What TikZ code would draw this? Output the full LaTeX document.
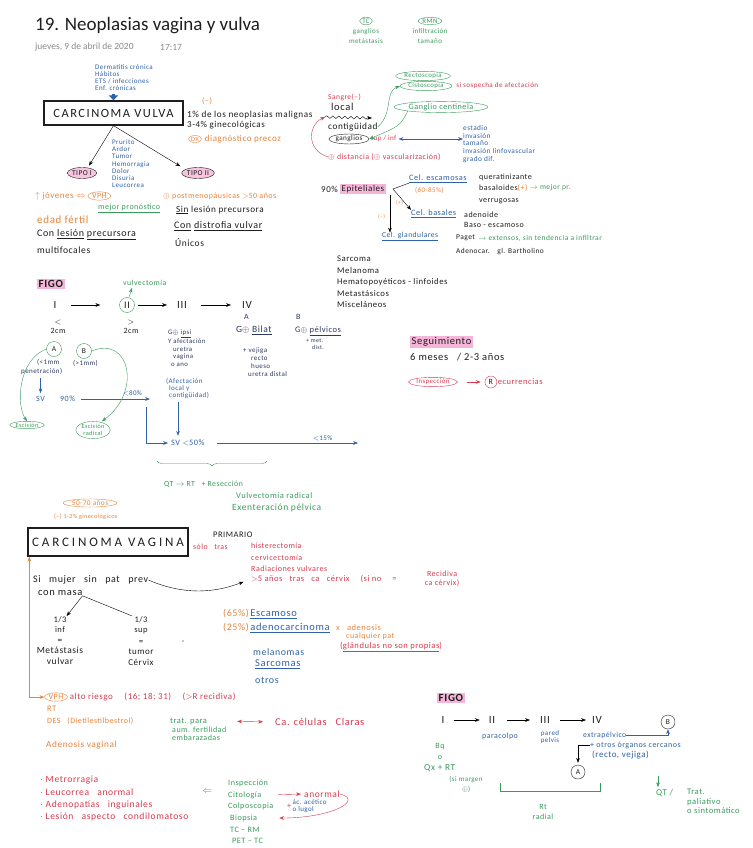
\documentclass[tikz,border=0pt]{standalone}
\usepackage{fontspec}
\setmainfont{Carlito}[LetterSpace=6]
\newfontfamily\plainfont{Carlito}
\usetikzlibrary{positioning,arrows.meta,shapes.geometric,decorations.pathmorphing,decorations.pathreplacing}
\definecolor{inkC}{HTML}{1E1E1E}
\definecolor{navyC}{HTML}{2E3A60}
\definecolor{blueC}{HTML}{2F62A6}
\definecolor{greenC}{HTML}{3A9A5E}
\definecolor{redC}{HTML}{D83A4F}
\definecolor{orangeC}{HTML}{E8843C}
\definecolor{pinkC}{HTML}{F5B5D8}
\definecolor{grayC}{HTML}{8A8A8A}
\newcommand{\fsz}[2]{\fontsize{#1}{#2}\selectfont}

\begin{document}
\begin{tikzpicture}[
  x=1pt, y=-1pt,
  >=Stealth,
  every node/.style={font=\fsz{7.5}{8.5}, text=inkC, inner sep=0pt},
  txt/.style={anchor=west, text=#1},
  txt/.default=inkC,
  lst/.style={anchor=north west, align=left, text=#1},
  lst/.default=inkC,
  oval/.style={ellipse, draw=#1, text=#1, inner xsep=0.8pt, inner ysep=0.4pt},
  circ/.style={circle, draw=#1, inner sep=1pt, minimum size=14pt},
  hl/.style={anchor=west, fill=pinkC, inner xsep=1.5pt, inner ysep=1.2pt},
  pill/.style={ellipse, draw=inkC, fill=pinkC!80, inner xsep=0.5pt, inner ysep=0pt,
               minimum height=11pt, font=\fsz{7.5}{8}},
  bigbox/.style={draw=inkC, line width=1.3pt, minimum width=#1, minimum height=24pt},
]
\fill[white] (0,0) rectangle (752,848);
\useasboundingbox (0,0) rectangle (752,848);

% ── Header ──
\node[txt, font=\plainfont\fsz{19}{19}] (title) at (35,26) {19. Neoplasias vagina y vulva};
\node[txt=grayC, font=\plainfont\fsz{9.5}{9.5}] (date) at (35,47) {jueves, 9 de abril de 2020};
\node[txt=grayC, font=\plainfont\fsz{9.5}{9.5}] (hour) at (160,47) {17:17};

% ── Carcinoma vulva ──
\node[lst=blueC, font=\fsz{7}{7}] (risk) at (95,64.5)
  {Dermatitis crónica\\Hábitos\\ETS / infecciones\\Enf. crónicas};
\node[bigbox=139pt, font=\fsz{12.5}{12.5}\addfontfeatures{LetterSpace=12}] (cvulva) at (113.5,113) {CARCINOMA VULVA};
\draw[blueC, line width=2.6pt, -{Triangle[length=5pt, width=9pt]}]
  ([yshift=-3pt]risk.south -| cvulva.north) -- (cvulva.north);

\node[txt=orangeC, font=\fsz{8}{8}] (vneg) at (202,101) {(--)};
\node[txt, font=\fsz{9.2}{9.2}] (vinc1) at (187,115) {1\% de los neoplasias malignas};
\node[txt, font=\fsz{9}{9}] (vinc2) at (187,125) {3-4\% ginecológicas};
\node[oval=orangeC, font=\fsz{6.5}{6.5}] (dxp) at (195,139) {DX};
\node[txt=orangeC, font=\fsz{9}{9}, right=3pt of dxp] (dxtxt) {diagnóstico precoz};

% ── Tipos ──
\node[pill] (tipo1) at (82,173) {TIPO I};
\node[pill] (tipo2) at (198,173) {TIPO II};
\draw[->, shorten >=2pt] (cvulva.south) -- ([xshift=6pt]tipo1.north);
\draw[->, shorten >=2pt] (cvulva.south) -- ([xshift=-16pt]tipo2.north);
\node[lst=blueC, font=\fsz{7}{7.2}] (sympt) at (112,139.5)
  {Prurito\\Ardor\\Tumor\\Hemorragia\\Dolor\\Disuria\\Leucorrea};

\node[txt=orangeC, font=\fsz{9}{9}] (joven) at (35,196) {$\uparrow$ jóvenes $\Leftrightarrow$};
\node[oval=orangeC, font=\fsz{8}{8}, right=2pt of joven] (vph1) {VPH};
\node[txt=greenC, font=\fsz{8}{8}] (mejorpr) at (98,208) {\underline{mejor pronóstico}};
\node[txt=orangeC, font=\fsz{11}{11}] (fertil) at (37,220) {edad fértil};
\node[txt, font=\fsz{10}{10}] (conles) at (37,235) {Con \underline{lesión} \underline{precursora}};
\node[txt, font=\fsz{9.6}{9.6}] (multif) at (37,250) {multifocales};

\node[txt=orangeC, font=\fsz{8}{8}] (postm) at (163,196) {$\oplus$ postmenopáusicas $>$50 años};
\node[txt, font=\fsz{9.2}{9.2}] (sinles) at (176,210) {\underline{Sin} lesión precursora};
\node[txt, font=\fsz{10}{10}] (condis) at (174,226) {\underline{Con} \underline{distrofia vulvar}};
\node[txt, font=\fsz{9.5}{9.5}] (unicos) at (175,243) {Únicos};

% ── Imagen ──
\node[oval=greenC, font=\fsz{7}{7}] (tc) at (366,21) {TC};
\node[below=3pt of tc, align=center, text=greenC, font=\fsz{7}{10}] (tcnote) {ganglios\\metástasis};
\node[oval=greenC, font=\fsz{7}{7}] (rmn) at (430,21) {RMN};
\node[below=3pt of rmn, align=center, text=greenC, font=\fsz{7}{10}] (rmnnote) {infiltración\\tamaño};

% ── Diseminación ──
\node[txt=redC] (sangre) at (328,97) {Sangre(--)};
\node[txt, font=\fsz{10.5}{10.5}] (local) at (331,107) {local};
\coordinate (wavS) at (325,117);
\coordinate (wavE) at (372,118);
\draw[->, decorate, decoration={snake, amplitude=1.3pt, segment length=6pt, post length=4pt}]
  (wavS) -- (wavE);
\node[txt, font=\fsz{9.3}{9.3}] (contig) at (328,127) {contigüidad};
\node[oval=inkC, font=\fsz{7.2}{7.2}] (gang) at (349,139) {ganglios};
\node[txt=redC, font=\fsz{7}{7}, right=1pt of gang] (supinf) {sup / inf};
\node[lst=blueC, font=\fsz{7.3}{7.6}] (factors) at (463,125.5)
  {estadio\\invasión\\tamaño\\invasión linfovascular\\grado dif.};
\draw[<->, blueC, shorten <=2pt] (supinf.east) -- (supinf.east -| factors.west);
\node[txt=redC, font=\fsz{7.9}{7.9}] (dist) at (328,157) {$\oplus$ distancia ($\oplus$ vascularización)};
\draw[->, redC] (dist.west) .. controls (306,150) and (308,125) .. (wavS);

\node[oval=greenC, font=\fsz{6.8}{6.8}] (recto) at (423,76) {Rectoscopia};
\node[oval=greenC, font=\fsz{6.8}{6.8}] (cisto) at (426,86) {Cistoscopia};
\node[txt=redC, font=\fsz{7.1}{7.1}, right=4pt of cisto] (sospecha) {si sospecha de afectación};
\node[oval=greenC, font=\fsz{8.2}{8.2}] (centinela) at (441,107) {Ganglio centinela};
\draw[->, greenC] (contig.east) .. controls (394,112) and (384,92) .. (cisto.west);
\draw[->, greenC] (centinela.south west) .. controls (400,126) .. (gang.east);

% ── Histología ──
\node[txt, font=\fsz{9}{9}] (ep90) at (321,189) {90\%};
\node[hl, font=\fsz{9}{9}, right=2pt of ep90] (epit) {Epiteliales};
\node[txt=blueC, font=\fsz{8.3}{8.3}] (cescam) at (409,179) {\underline{Cel. escamosas}};
\node[txt=orangeC, font=\fsz{7}{7}] (pct) at (415,190) {(60-85\%)};
\node[txt=blueC, font=\fsz{8.3}{8.3}] (cbas) at (411,214) {\underline{Cel. basales}};
\node[txt=blueC, font=\fsz{7.6}{7.6}] (cglan) at (382,237) {\underline{Cel. glandulares}};
\draw (cescam.south west) -- ([xshift=7pt]epit.east);
\draw[->] ([xshift=7pt]epit.east) -- (cbas.north west);
\draw[->, shorten <=3pt, shorten >=3pt] ([xshift=4pt,yshift=-3pt]epit.east)
  -- ([xshift=4pt,yshift=-3pt]epit.east |- cglan.north);
\node[txt=orangeC, font=\fsz{5.5}{5.5}] (mas1) at (396,203) {(+)};
\node[txt=orangeC, font=\fsz{5.5}{5.5}] (menos1) at (378,217) {(--)};

\node[txt, font=\fsz{8}{8}] (querat) at (479,177) {queratinizante};
\node[txt, font=\fsz{8}{8}] (basal) at (479,188) {basaloides\textcolor{orangeC}{(+)}};
\node[txt=greenC, right=2pt of basal] (mejor2) {$\rightarrow$ mejor pr.};
\node[txt, font=\fsz{8}{8}] (verrug) at (479,201) {verrugosas};
\node[txt, font=\fsz{8}{8}] (adenoid) at (464,215) {adenoide};
\node[txt, font=\fsz{8}{8}] (basoesc) at (464,225) {Baso - escamoso};
\node[txt, font=\fsz{7.5}{7.5}] (paget) at (456,238) {Paget};
\node[txt=greenC, right=3pt of paget] (extensos) {$\rightarrow$ extensos, sin tendencia a infiltrar};
\node[txt, font=\fsz{7.4}{7.4}] (bartho) at (456,252) {Adenocar. \; gl. Bartholino};

\node[lst, font=\fsz{8.7}{11.5}] (otrosv) at (337,256)
  {Sarcoma\\Melanoma\\Hematopoyéticos - linfoides\\Metastásicos\\Misceláneos};

% ── FIGO vulva ──
\node[hl, font=\fsz{11}{11}\bfseries] (figo1) at (37,284) {FIGO};
\node[font=\fsz{11}{11}] (s1) at (55,305) {I};
\node[circ=greenC, minimum size=15pt, font=\fsz{10}{10}] (s2) at (127,305) {II};
\node[font=\fsz{11}{11}] (s3) at (182,305) {III};
\node[font=\fsz{11}{11}] (s4) at (247,305) {IV};
\draw[->, shorten <=14pt, shorten >=19pt] (s1) -- (s2);
\draw[->, shorten <=3pt, shorten >=10pt] (s2) -- (s3);
\draw[->, shorten <=14pt, shorten >=11pt] (s3) -- (s4);
\node[txt=greenC, font=\fsz{7.8}{7.8}] (vulvect) at (123,283) {vulvectomía};
\draw[->, greenC] ([xshift=2pt]s2.north) -- ([xshift=9pt,yshift=-2pt]vulvect.south west);

\node[align=center, font=\fsz{8}{9}] (sz1) at (58,327) {$<$\\2cm};
\node[align=center, font=\fsz{8}{9}] (sz2) at (131,327) {$>$\\2cm};

\node[lst=navyC, font=\fsz{6.8}{7.5}] (s3det) at (168,330)
  {G$\oplus$ \underline{ipsi}\\Y afectación\\\hspace*{5pt}uretra\\\hspace*{5pt}vagina\\\hspace*{3pt}o ano};
\node[lst=blueC, font=\fsz{7}{7}] (afect) at (166,378.5)
  {(Afectación\\\hspace*{3pt}local y\\\hspace*{3pt}contigüidad)};

\node[txt=navyC, font=\fsz{8}{8}] (ivA) at (244,317) {A};
\node[txt=navyC, font=\fsz{9.5}{9.5}] (ivAg) at (236,330) {G$\oplus$ \underline{Bilat}};
\node[lst=navyC, font=\fsz{7}{8}] (ivAdet) at (243,347)
  {+ vejiga\\\hspace*{8pt}recto\\\hspace*{8pt}hueso\\\hspace*{5pt}uretra distal};
\node[txt=navyC, font=\fsz{8}{8}] (ivB) at (296,317) {B};
\node[txt=navyC, font=\fsz{8.5}{8.5}] (ivBg) at (295,331) {G$\oplus$ \underline{pélvicos}};
\node[lst=navyC, font=\fsz{6}{7}] (ivBdet) at (306,338.5) {+ met.\\\hspace*{6pt}dist.};

% ── Tratamiento estadio I ──
\node[circ=greenC, minimum size=15pt] (subA) at (54,349) {A};
\node[circ=greenC, minimum size=15pt] (subB) at (84,351) {B};
\node[lst=navyC, font=\fsz{7}{9}] (penet) at (21,359) {\hspace*{16pt}(<1mm\\penetración)};
\node[txt=navyC, font=\fsz{7}{7}] (mayor1) at (73,363) {(>1mm)};
\node[txt=blueC, font=\fsz{8}{8}] (sv) at (36,399) {SV};
\node[txt=blueC, font=\fsz{8}{8}] (sv90) at (60,399) {90\%};
\draw[->, blueC, shorten <=3pt, shorten >=3pt] (penet.south -| sv.north) -- (sv.north);
\draw[->, blueC, shorten <=6pt, shorten >=16pt] (sv90.east) -- (sv90.east -| afect.west)
  coordinate[pos=0.78] (lsplit)
  node[pos=0.63, above=3pt, text=blueC, font=\fsz{7}{7}] (lt80) {$<$80\%};

\node[oval=greenC, font=\fsz{6.3}{6.3}] (escA) at (27,425) {Escisión};
\node[oval=greenC, font=\fsz{6.3}{7}, align=center] (escB) at (93,430) {Escisión\\radical};
\draw[->, greenC] (subA.west) .. controls (18,360) and (16,405) .. (escA.north);
\draw[->, greenC] (subB.east) .. controls (130,335) and (142,392) .. ([xshift=9pt]escB.north);

\node[txt=blueC, font=\fsz{8.3}{8.3}] (sv50) at (171,443) {SV $<$50\%};
\draw[->, blueC, shorten >=3pt] ([yshift=-8pt]lsplit) |- (sv50.west);
\draw[->, blueC, shorten <=3pt, shorten >=4pt] ([xshift=12pt]afect.south west)
  -- ([xshift=12pt]afect.south west |- sv50.north);
\coordinate (sv15) at (358,443);
\draw[->, blueC, shorten <=12pt] (sv50.east) -- (sv15)
  node[pos=0.77, above=2pt, text=blueC, font=\fsz{7}{7}] (lt15) {$<$15\%};

\draw[greenC, decorate, decoration={brace, mirror, amplitude=5pt}] (157,461) -- (267,461);
\node[txt=greenC, font=\fsz{7.8}{7.8}] (qtrt) at (164,484) {QT $\rightarrow$ RT \; + Resección};
\node[txt=greenC, font=\fsz{8.5}{8.5}] (vulvrad) at (236,496) {Vulvectomía radical};
\node[txt=greenC, font=\fsz{9.5}{9.5}] (exent) at (232,508) {Exenteración pélvica};

% ── Seguimiento ──
\node[hl, font=\fsz{10.5}{10.5}] (segui) at (410,342) {Seguimiento};
\node[txt, font=\fsz{10.5}{10.5}] (segtime) at (410,357) {6 meses \; / 2-3 años};
\node[oval=redC, font=\fsz{6.8}{6.8}] (inspec) at (433,382) {Inspección};
\node[circ=redC, minimum size=12pt, font=\fsz{8}{8}, right=27pt of inspec] (recR) {R};
\node[txt=redC, font=\fsz{8.5}{8.5}, right=0.5pt of recR] (recur) {ecurrencias};
\draw[->, redC, shorten <=9pt, shorten >=4pt] (inspec) -- (recR);

% ── Carcinoma vagina ──
\node[oval=orangeC, font=\fsz{7.3}{7.3}] (edad) at (90,503) {50-70 años};
\node[txt=orangeC, font=\fsz{6.2}{6.2}] (pct2) at (54,517) {(--) 1-2\% ginecológicos};
\node[bigbox=160pt, minimum height=28pt, font=\fsz{13}{13}\addfontfeatures{LetterSpace=22}] (cvagina) at (108,542) {CARCINOMA VAGINA};
\node[txt, font=\fsz{8.5}{8.5}] (prim) at (213,535) {PRIMARIO};
\node[txt=redC, font=\fsz{7.8}{7.8}] (solotras) at (193,547) {sólo \; tras};
\node[lst=redC, font=\fsz{8}{11.5}] (prevtx) at (251,543)
  {histerectomía\\cervicectomía\\Radiaciones vulvares};
\node[txt=redC, font=\fsz{8.5}{8.5}] (cx5) at (251,579)
  {$>$5 años \; tras \; ca \; cérvix \quad (si no \quad =};
\node[align=center, text=redC, font=\fsz{8}{9}, right=28pt of cx5] (recid) {Recidiva\\ca cérvix)};

\node[txt, font=\fsz{10}{10}] (sinpat) at (33,580) {Si \; mujer \; sin \; pat \; prev};
\node[txt, font=\fsz{10.5}{10.5}] (masa) at (38,593) {con masa};
\draw[->, shorten >=8pt] (sinpat.east) .. controls (190,598) and (222,590) .. (cx5.west);

\node[align=center, anchor=north, font=\fsz{8.5}{10.5}] (inf13) at (60,616) {1/3\\inf};
\node[align=center, below=6pt of inf13, font=\fsz{9.5}{10.5}] (infres) {=\\Metástasis\\vulvar};
\node[align=center, anchor=north, font=\fsz{8.5}{10.5}] (sup13) at (141,616) {1/3\\sup};
\node[align=center, below=6pt of sup13, font=\fsz{9}{10.5}] (supres) {=\\tumor\\Cérvix};
\draw[->] (masa.south east) -- (inf13.north east);
\draw (masa.south east) -- ([xshift=-2pt]sup13.north west);
\fill (183,641) circle (0.7pt);

\node[txt=orangeC, font=\fsz{10}{10}] (p65) at (223,614) {(65\%)};
\node[txt=blueC, font=\fsz{10.5}{10.5}, right=1pt of p65] (escam2) {\underline{Escamoso}};
\node[txt=orangeC, font=\fsz{10}{10}] (p25) at (223,628) {(25\%)};
\node[txt=blueC, font=\fsz{10.5}{10.5}, right=1pt of p25] (adenoca) {\underline{adenocarcinoma}};
\node[txt=orangeC, font=\fsz{8.5}{8.5}] (xaden) at (336,628) {x \; adenosis};
\node[txt=orangeC, font=\fsz{8}{8}] (cualq) at (346,636) {cualquier pat};
\node[txt=redC, font=\fsz{8.6}{8.6}] (glandp) at (340,647) {(\underline{glándulas no son propias})};
\node[txt=blueC, font=\fsz{9.8}{9.8}] (melan) at (253,652) {melanomas};
\node[txt=blueC, font=\fsz{10.5}{10.5}] (sarc) at (255,664) {\underline{Sarcomas}};
\node[txt=blueC, font=\fsz{10}{10}] (otrosg) at (255,680) {otros};

% ── Factores de riesgo vagina ──
\node[oval=orangeC, font=\fsz{8}{8}] (vph2) at (56,697) {VPH};
\draw[<->, orangeC] ([xshift=2pt]cvagina.south west) |- (vph2.west);
\node[txt=redC, font=\fsz{9}{9}, right=2pt of vph2] (altor)
  {alto riesgo \quad (16; 18; 31) \quad ($>$R recidiva)};
\node[txt=orangeC, font=\fsz{8.5}{8.5}] (rt) at (47,709) {RT};
\node[txt=orangeC, font=\fsz{8}{8}] (des) at (47,721) {DES \; (Dietilestilbestrol)};
\node[txt=greenC, font=\fsz{8.5}{8.5}] (tratdes) at (170,721) {trat. para};
\node[lst=greenC, font=\fsz{8}{8}] (tratdes2) at (172,727) {aum. fertilidad\\embarazadas};
\node[txt=redC, font=\fsz{10.5}{10.5}] (ccclaras) at (275,722) {Ca. células \; Claras};
\draw[<->, redC, shorten <=30pt, shorten >=12pt] (tratdes.east) -- (ccclaras.west);
\node[txt=orangeC, font=\fsz{9.3}{9.3}] (adenvag) at (46,745) {Adenosis vaginal};

% ── Clínica y diagnóstico ──
\node[lst=redC, font=\fsz{9.6}{12.3}] (sintomas) at (40,776)
  {$\cdot$ Metrorragia\\$\cdot$ Leucorrea \; anormal\\$\cdot$ Adenopatías \; inguinales\\$\cdot$ Lesión \; aspecto \; condilomatoso};
\node[text=greenC, font=\fsz{10}{10}] (impl) at (207,792) {$\Leftarrow$};
\node[txt=greenC, font=\fsz{8.2}{8.2}] (ins) at (228,783) {Inspección};
\node[txt=greenC, font=\fsz{8.2}{8.2}] (cito) at (228,795) {Citología};
\node[txt=greenC, font=\fsz{8.2}{8.2}] (colpo) at (228,806) {Colposcopia};
\node[txt=greenC, font=\fsz{8.2}{8.2}] (bx) at (230,818) {Biopsia};
\node[txt=greenC, font=\fsz{8.2}{8.2}] (tcrm) at (230,830) {TC -- RM};
\node[txt=greenC, font=\fsz{8.2}{8.2}] (pettc) at (232,841) {PET -- TC};
\node[txt=redC, font=\fsz{9.5}{9.5}] (anormal) at (304,794) {anormal};
\draw[->, redC, shorten <=17pt, shorten >=3pt] (cito.east) -- (anormal.west);
\node[txt=redC, font=\fsz{8}{8}] (plusac) at (287,806) {+};
\node[lst=blueC, font=\fsz{7}{7}, right=1pt of plusac] (acet) {ác. acético\\o lugol};
\draw[->, redC, shorten >=22pt] (anormal.east) .. controls (364,800) and (332,818) .. (bx.east);

% ── FIGO vagina ──
\node[hl, font=\fsz{11}{11}\bfseries] (figo2) at (437,698) {FIGO};
\node[font=\fsz{11}{11}] (v1) at (443,720) {I};
\node[font=\fsz{11}{11}] (v2) at (492,720) {II};
\node[font=\fsz{11}{11}] (v3) at (545,720) {III};
\node[font=\fsz{11}{11}] (v4) at (597,720) {IV};
\draw[->, shorten <=9pt, shorten >=9pt] (v1) -- (v2);
\draw[->, shorten <=12pt, shorten >=10pt] (v2) -- (v3);
\draw[->, shorten <=10pt, shorten >=6pt] (v3) -- (v4);
\node[txt=blueC, font=\fsz{7.9}{7.9}] (parac) at (482,736) {paracolpo};
\node[align=center, text=blueC, font=\fsz{7}{7.5}] (pared) at (550,737) {pared\\pelvis};
\node[txt=blueC, font=\fsz{7.7}{7.7}] (extrap) at (583,735) {extrapélvico};
\node[circ=inkC] (vB) at (668,722) {B};
\draw[->, blueC] (extrap.east) -| (vB.south);
\node[txt=blueC, font=\fsz{8}{8}] (otrosorg) at (590,745) {+ otros órganos cercanos};
\node[txt=blueC, font=\fsz{9}{9}] (rectoveg) at (592,755) {(recto, vejiga)};
\node[circ=inkC] (vA) at (578,772) {A};
\draw[->, shorten >=2pt] (otrosorg.west) -| (vA.north);

\node[align=center, text=greenC, font=\fsz{8}{11}] (bq) at (440,751) {Bq\\o};
\node[txt=greenC, font=\fsz{9.3}{9.3}] (qxrt) at (424,768) {Qx + RT};
\node[align=center, text=greenC, font=\fsz{7}{10}] (margen) at (466,784) {(si margen\\$\oplus$)};
\draw[greenC] (500,783) -- (500,791) -- (600,791) -- (600,783);
\node[align=center, text=greenC, font=\fsz{8}{10}] (rtrad) at (543,812) {Rt\\radial};
\node[txt=greenC, font=\fsz{9}{9}] (qt) at (656,793) {QT /};
\coordinate (qtarr) at (658,776);
\draw[->, greenC, shorten >=2pt] (qtarr) -- (qtarr |- qt.north);
\node[lst=greenC, font=\fsz{8.6}{9.5}] (paliat) at (687,789) {Trat.\\paliativo\\o sintomático};

\end{tikzpicture}
\end{document}
